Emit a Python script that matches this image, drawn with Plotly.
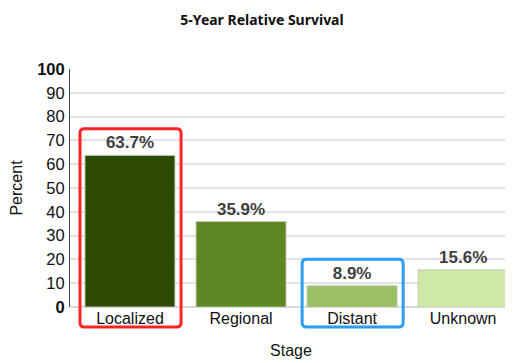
import plotly.graph_objects as go

stages = ["Localized", "Regional", "Distant", "Unknown"]
survival = [63.7, 35.9, 8.9, 15.6]
bar_colors = ["#2d4a03", "#5e8723", "#9bc063", "#d0e8a6"]
y_ticks = [0, 10, 20, 30, 40, 50, 60, 70, 80, 90, 100]
y_ticktext = ["<b>0</b>", "10", "20", "30", "40", "50", "60", "70", "80", "90", "<b>100</b>"]
highlight = {"Localized": "#ff2424", "Distant": "#2c9cf5"}

fig = go.Figure()
fig.add_trace(go.Bar(
    x=list(range(len(stages))), y=survival,
    marker=dict(color=bar_colors, line=dict(color="rgba(190,200,180,0.9)", width=1)),
    width=0.81,
    text=[f"{v}%" for v in survival], textposition="outside",
    textfont=dict(family="Liberation Sans, Arial", size=17, color="#404040", weight="bold"),
    cliponaxis=False, hoverinfo="skip",
))

# highlight boxes (rounded rectangles), x in data units, y in paper units
rx, ry = 0.04, 0.018
bottom = -0.084
for name, col in highlight.items():
    i = stages.index(name)
    v = survival[i]
    x0, x1 = i - 0.45, i + 0.46
    y0, y1 = bottom, (v + 11.2) / 100
    path = (f"M {x0+rx},{y1} L {x1-rx},{y1} Q {x1},{y1} {x1},{y1-ry} "
            f"L {x1},{y0+ry} Q {x1},{y0} {x1-rx},{y0} L {x0+rx},{y0} "
            f"Q {x0},{y0} {x0},{y0+ry} L {x0},{y1-ry} Q {x0},{y1} {x0+rx},{y1} Z")
    fig.add_shape(type="path", path=path, xref="x", yref="paper",
                  line=dict(color=col, width=3), layer="above")

fig.update_layout(
    width=505, height=355,
    margin=dict(l=62, r=1, t=61, b=56, autoexpand=False),
    paper_bgcolor="white", plot_bgcolor="white",
    showlegend=False,
    title=dict(text="<b>5-Year Relative Survival</b>", x=0.503, xanchor="center", y=0.966, yanchor="middle",
               font=dict(family="Noto Sans", size=14, color="#111")),
    font=dict(family="Liberation Sans, Arial", color="#111"),
    xaxis=dict(range=[-0.54, 3.44], tickvals=list(range(len(stages))), ticktext=stages,
               tickfont=dict(size=16, color="#111"), showgrid=False, zeroline=False,
               showline=False, ticks="", automargin=False,
               title=dict(text="Stage", font=dict(size=16, color="#111"), standoff=18)),
    yaxis=dict(range=[0, 100], tickvals=y_ticks, ticktext=y_ticktext,
               tickfont=dict(size=16.5, color="#111"), showgrid=True, gridcolor="#e2e2e2", gridwidth=2,
               zeroline=True, zerolinecolor="#d8d8d8", zerolinewidth=2,
               showline=True, linecolor="#444", linewidth=1, ticks="", ticklabelstandoff=1,
               automargin=False,
               title=dict(text="Percent", font=dict(size=16, color="#111"))),
)

fig.write_html("out.html")
